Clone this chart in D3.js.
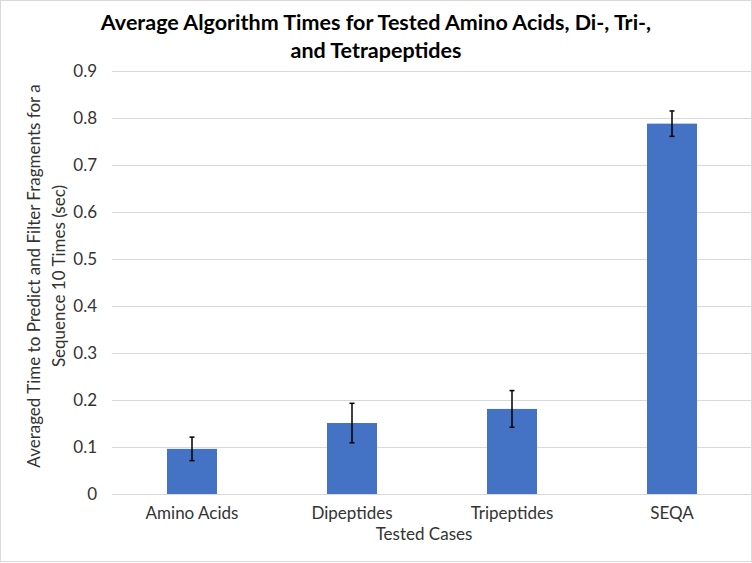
<!DOCTYPE html>
<html><head><meta charset="utf-8">
<script src="https://cdn.jsdelivr.net/npm/d3@7"></script>
<style>body{margin:0;background:#fff}svg{display:block}</style>
</head><body>
<svg id="c" width="752" height="563"></svg>
<script>
const categories = ["Amino Acids", "Dipeptides", "Tripeptides", "SEQA"];
const values = [0.096, 0.151, 0.181, 0.788];
const errors = [0.025, 0.042, 0.039, 0.027];
const yTicks = [0, 0.1, 0.2, 0.3, 0.4, 0.5, 0.6, 0.7, 0.8, 0.9];
const titleLines = ["Average Algorithm Times for Tested Amino Acids, Di-, Tri-,", "and Tetrapeptides"];
const yTitleLines = ["Averaged Time to Predict and Filter Fragments for a", "Sequence 10 Times (sec)"];
const xTitle = "Tested Cases";

const font = "Lato, 'Open Sans', sans-serif";
const svg = d3.select("#c");
const W = 752, H = 563;
const m = {left: 112, right: 752, top: 71, bottom: 494};
const txt = "#333333";

svg.append("rect").attr("x",0.5).attr("y",0.5).attr("width",W-1).attr("height",H-2)
  .attr("fill","#fff").attr("stroke","#d9d9d9");

const x = d3.scaleBand().domain(categories).range([m.left, m.right]).paddingInner(0.6875).paddingOuter(0.34375);
const y = d3.scaleLinear().domain([0, 0.9]).range([m.bottom, m.top]);

// gridlines
svg.append("g").selectAll("line").data(yTicks).join("line")
  .attr("x1", m.left).attr("x2", m.right)
  .attr("y1", d => Math.round(y(d)) + 0.5).attr("y2", d => Math.round(y(d)) + 0.5)
  .attr("stroke", "#d9d9d9").attr("stroke-width", 1);

// y axis labels
const yAxis = d3.axisLeft(y).tickValues(yTicks).tickSize(0).tickPadding(15)
  .tickFormat(d => d === 0 ? "0" : d3.format(".1f")(d));
const ya = svg.append("g").attr("transform", `translate(${m.left},0)`).call(yAxis);
ya.select(".domain").remove();
ya.selectAll("text").attr("font-family", font).attr("font-size", 17).attr("fill", txt);

// bars
svg.append("g").selectAll("rect").data(categories).join("rect")
  .attr("x", d => x(d)).attr("width", x.bandwidth())
  .attr("y", (d,i) => y(values[i])).attr("height", (d,i) => y(0) - y(values[i]))
  .attr("fill", "#4472C4");

// error bars
const eb = svg.append("g").attr("stroke", "#000").attr("stroke-width", 1.5);
categories.forEach((c, i) => {
  const cx = x(c) + x.bandwidth()/2;
  const t = y(values[i] + errors[i]), b = y(values[i] - errors[i]);
  eb.append("line").attr("x1", cx).attr("x2", cx).attr("y1", t).attr("y2", b);
  eb.append("line").attr("x1", cx-2.5).attr("x2", cx+2.5).attr("y1", t).attr("y2", t);
  eb.append("line").attr("x1", cx-2.5).attr("x2", cx+2.5).attr("y1", b).attr("y2", b);
});

// x axis
const xAxis = d3.axisBottom(x).tickSize(0).tickPadding(13);
const xa = svg.append("g").attr("transform", `translate(0,${m.bottom})`).call(xAxis);
xa.select(".domain").remove();
xa.selectAll("text").attr("font-family", font).attr("font-size", 17).attr("fill", txt);

// titles
svg.append("g").selectAll("text").data(titleLines).join("text")
  .attr("x", 376).attr("y", (d,i) => 30 + i*28)
  .attr("text-anchor", "middle").attr("font-family", font).attr("font-weight", "bold")
  .attr("font-size", 21.5).attr("fill", "#000").text(d => d);

svg.append("text").attr("x", (m.left + m.right)/2 - 8).attr("y", 540)
  .attr("text-anchor", "middle").attr("font-family", font).attr("font-size", 17)
  .attr("fill", txt).text(xTitle);

svg.append("g").attr("transform", "translate(0,276) rotate(-90)")
  .selectAll("text").data(yTitleLines).join("text")
  .attr("x", 0).attr("y", (d,i) => 40 + i*25)
  .attr("text-anchor", "middle").attr("font-family", font).attr("font-size", 17)
  .attr("fill", txt).text(d => d);
</script>
</body></html>
